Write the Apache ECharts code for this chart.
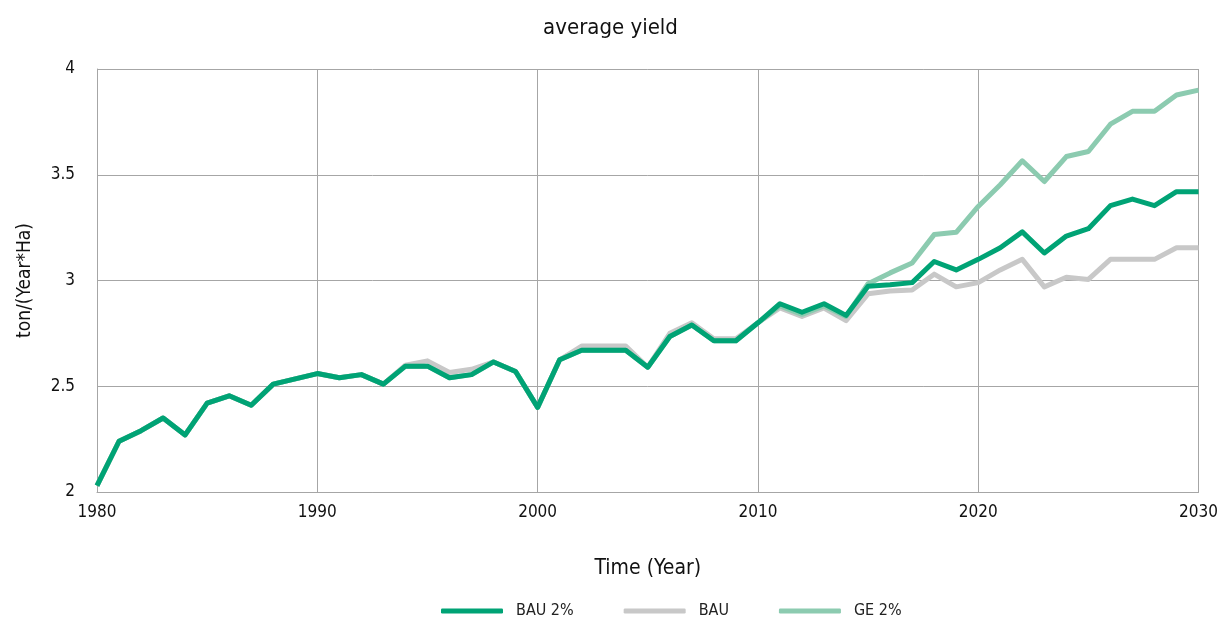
<!DOCTYPE html>
<html>
<head>
<meta charset="utf-8">
<script src="https://cdn.jsdelivr.net/npm/echarts@6/dist/echarts.min.js"></script>
<style>
  html, body { margin: 0; padding: 0; background: #fff; }
  #chart { width: 1221px; height: 621px; }
</style>
</head>
<body>
<div id="chart"></div>
<script>
const years = [];
for (let y = 1980; y <= 2030; y++) years.push(y);

const bau2 = [2.03, 2.24, 2.29, 2.35, 2.27, 2.42, 2.455, 2.41, 2.51, 2.535,
  2.56, 2.54, 2.555, 2.51, 2.595, 2.595, 2.54, 2.555, 2.615, 2.57,
  2.40, 2.625, 2.67, 2.67, 2.67, 2.59, 2.735, 2.79, 2.715, 2.715,
  2.80, 2.89, 2.85, 2.89, 2.835, 2.973, 2.98, 2.99, 3.09, 3.05,
  3.10, 3.155, 3.23, 3.13, 3.21, 3.245, 3.354, 3.385, 3.354, 3.42, 3.42];

const bau = [2.03, 2.24, 2.29, 2.35, 2.27, 2.42, 2.455, 2.41, 2.51, 2.535,
  2.56, 2.54, 2.555, 2.51, 2.60, 2.62, 2.565, 2.58, 2.615, 2.57,
  2.40, 2.625, 2.69, 2.69, 2.69, 2.59, 2.75, 2.80, 2.725, 2.725,
  2.80, 2.87, 2.83, 2.87, 2.81, 2.937, 2.95, 2.955, 3.03, 2.97,
  2.99, 3.05, 3.10, 2.97, 3.015, 3.005, 3.10, 3.10, 3.10, 3.155, 3.155];

const ge2 = [2.03, 2.24, 2.29, 2.35, 2.27, 2.42, 2.455, 2.41, 2.51, 2.535,
  2.56, 2.54, 2.555, 2.51, 2.595, 2.595, 2.54, 2.555, 2.615, 2.57,
  2.40, 2.625, 2.67, 2.67, 2.67, 2.59, 2.735, 2.79, 2.715, 2.715,
  2.80, 2.88, 2.84, 2.88, 2.83, 2.985, 3.036, 3.083, 3.217, 3.228,
  3.35, 3.453, 3.566, 3.468, 3.586, 3.61, 3.739, 3.80, 3.80, 3.877, 3.90];

const seriesNames = ['BAU 2%', 'BAU', 'GE 2%'];
const seriesColors = ['#00a375', '#c8c8c8', '#8ccbb0'];
const seriesData = [bau2, bau, ge2];
const drawOrder = [3, 1, 2];

const font = '"Liberation Sans Narrow", "DejaVu Sans Condensed", "Roboto", sans-serif';

const chart = echarts.init(document.getElementById('chart'));
const option = {
  animation: false,
  textStyle: { fontFamily: font },
  title: {
    text: 'average yield',
    left: 'center',
    top: 12,
    textStyle: { fontFamily: font, fontSize: 22, fontWeight: 'normal', color: '#111' }
  },
  legend: {
    bottom: -3,
    left: 436,
    itemWidth: 62,
    itemHeight: 5,
    itemGap: 50,
    icon: 'roundRect',
    textStyle: { fontFamily: font, fontSize: 16, color: '#222', padding: [0, 0, 0, 8] },
    data: seriesNames
  },
  grid: { left: 97, right: 20, top: 69, bottom: 129, containLabel: false },
  xAxis: {
    type: 'value',
    min: 1980,
    max: 2030,
    interval: 10,
    name: 'Time (Year)',
    nameLocation: 'middle',
    nameGap: 66,
    nameTextStyle: { fontFamily: font, fontSize: 21, color: '#111' },
    axisLine: { show: true, lineStyle: { color: '#a6a6a6', width: 1 } },
    axisTick: { show: false },
    axisLabel: { fontFamily: font, fontSize: 17, color: '#111', margin: 12, formatter: v => String(v) },
    splitLine: { show: true, lineStyle: { color: '#a6a6a6', width: 1 } }
  },
  yAxis: {
    type: 'value',
    min: 2,
    max: 4,
    interval: 0.5,
    name: 'ton/(Year*Ha)',
    nameLocation: 'middle',
    nameGap: 62,
    nameTextStyle: { fontFamily: font, fontSize: 19, color: '#111' },
    axisLine: { show: true, lineStyle: { color: '#a6a6a6', width: 1 } },
    axisTick: { show: false },
    axisLabel: { fontFamily: font, fontSize: 17, color: '#111', margin: 22 },
    splitLine: { show: true, lineStyle: { color: '#a6a6a6', width: 1 } }
  },
  series: seriesNames.map((name, i) => ({
    name: name,
    type: 'line',
    showSymbol: false,
    symbol: 'none',
    z: drawOrder[i],
    color: seriesColors[i],
    lineStyle: { width: 5, color: seriesColors[i], join: 'round' },
    data: years.map((yr, k) => [yr, seriesData[i][k]])
  }))
};
chart.setOption(option);
</script>
</body>
</html>
